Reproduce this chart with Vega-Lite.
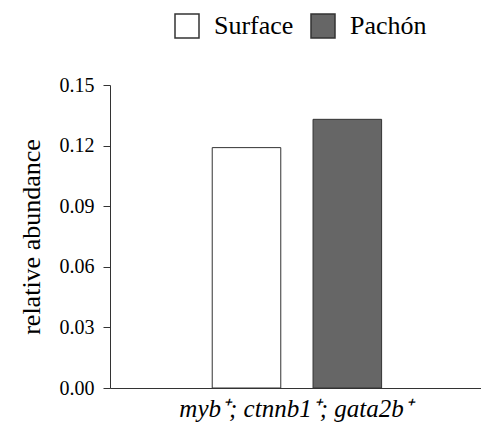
{
  "$schema": "https://vega.github.io/schema/vega-lite/v6.json",
  "autosize": "none",
  "width": 371,
  "height": 303,
  "padding": {"left": 110, "top": 85, "right": 0, "bottom": 41},
  "background": "white",
  "data": {"values": [
    {"gene": "myb⁺; ctnnb1⁺; gata2b⁺", "type": "Surface", "value": 0.119},
    {"gene": "myb⁺; ctnnb1⁺; gata2b⁺", "type": "Pachón", "value": 0.133}
  ]},
  "config": {
    "font": "Liberation Serif",
    "view": {"stroke": null},
    "axis": {"domainColor": "#333333", "tickColor": "#333333", "labelColor": "black", "titleColor": "black", "grid": false, "labelFont": "Liberation Serif", "titleFont": "Liberation Serif"},
    "legend": {"labelFont": "Liberation Serif"}
  },
  "mark": {"type": "bar", "stroke": "#333333", "strokeWidth": 1},
  "encoding": {
    "x": {
      "field": "gene", "type": "nominal",
      "scale": {"paddingInner": 0, "paddingOuter": 0},
      "axis": {"title": null, "ticks": false, "labelAngle": 0, "labelFontSize": 25, "labelFontStyle": "italic", "labelPadding": 8, "labelDx": 5, "labelLimit": 0}
    },
    "xOffset": {
      "field": "type", "type": "nominal",
      "scale": {"domain": ["Surface", "Pachón"], "paddingInner": 0.32, "paddingOuter": 1.015, "align": 0.507}
    },
    "y": {
      "field": "value", "type": "quantitative",
      "scale": {"domain": [0, 0.15], "nice": false},
      "axis": {"title": "relative abundance", "values": [0, 0.03, 0.06, 0.09, 0.12, 0.15], "format": ".2f", "tickSize": 7, "labelFontSize": 20, "labelPadding": 9, "titleFontSize": 26, "titleFontWeight": "normal", "titlePadding": 15}
    },
    "color": {
      "field": "type", "type": "nominal",
      "scale": {"domain": ["Surface", "Pachón"], "range": ["white", "#666666"]},
      "legend": {"title": null, "orient": "none", "direction": "horizontal", "legendX": 64, "legendY": -72, "symbolType": "square", "symbolSize": 576, "symbolStrokeColor": "#333333", "symbolStrokeWidth": 1.5, "symbolOpacity": 1, "labelFontSize": 26, "labelColor": "black", "labelOffset": 14, "columnPadding": 14}
    }
  }
}
